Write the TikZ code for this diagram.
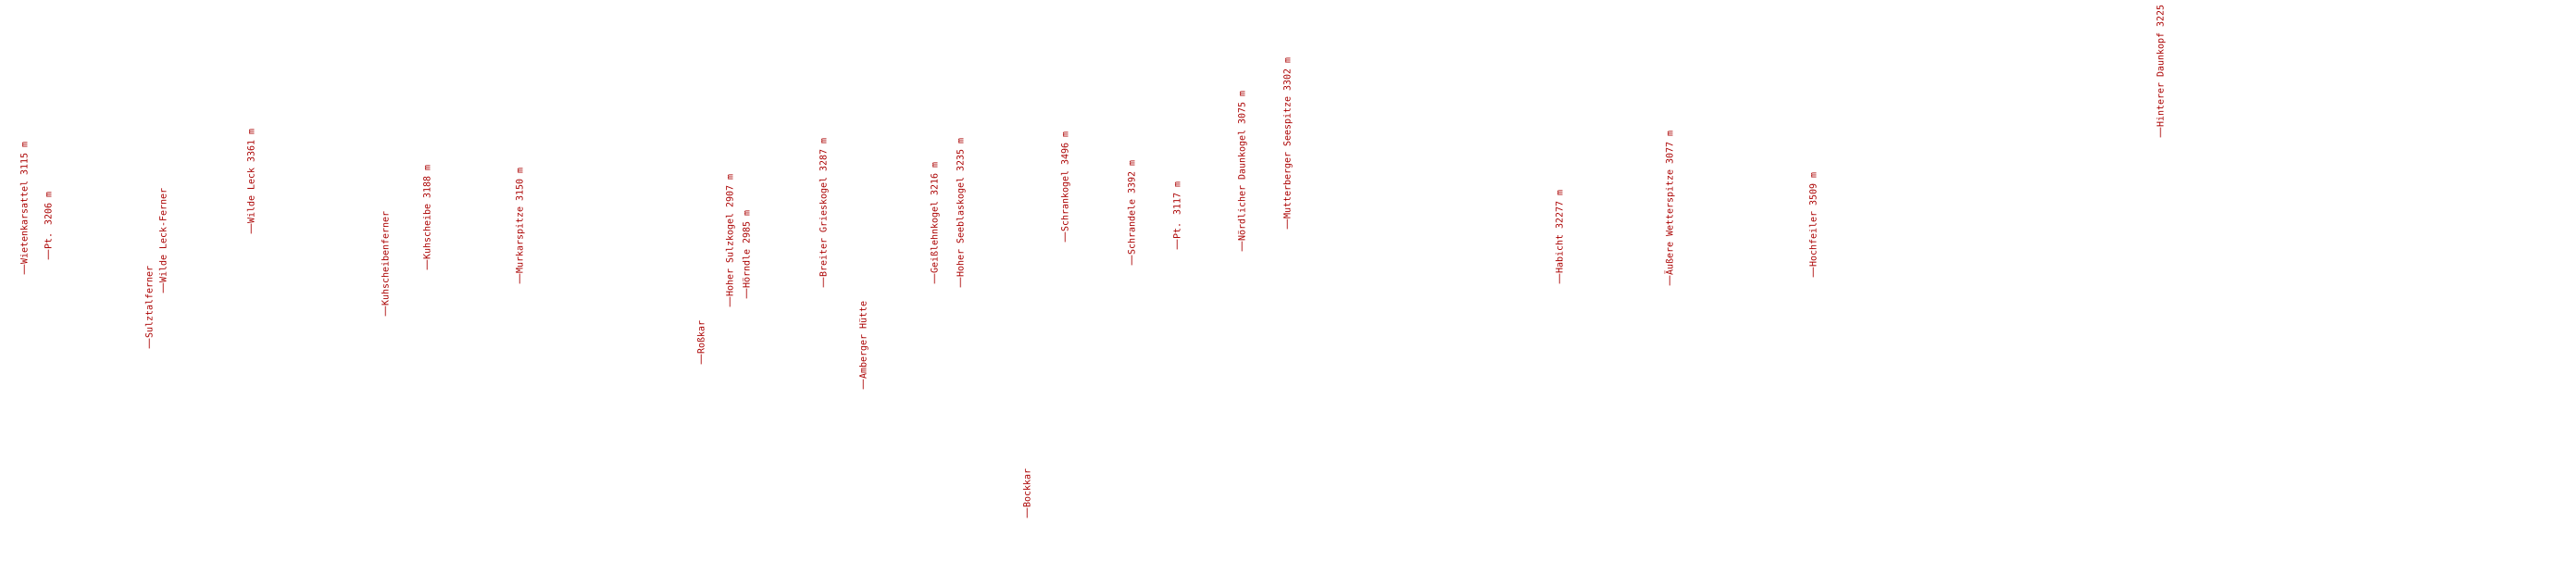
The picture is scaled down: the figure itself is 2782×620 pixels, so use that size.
\documentclass[tikz,border=0pt]{standalone}
\usepackage{fontspec}
\newfontfamily\lblmono{DejaVu Sans Mono}
\newfontfamily\lbldashfont{DejaVu Sans}
\newcommand\lbldash{{\lbldashfont\fontsize{12}{12}\selectfont —}}
\definecolor{lblred}{RGB}{170,0,0}
\tikzset{
  lbl/.style={rotate=90, anchor=west, inner sep=0pt, text=lblred,
    font=\lblmono\fontsize{10}{10}\selectfont, text height=7.5pt, text depth=2.5pt}
}
\begin{document}
\begin{tikzpicture}[x=1pt,y=-1pt]
\useasboundingbox (0,0) rectangle (2782,620);
\node[lbl] (n01) at (27,298)   {\lbldash Wietenkarsattel 3115 m};
\node[lbl] (n02) at (53,282)   {\lbldash Pt. 3206 m};
\node[lbl] (n03) at (162,378)  {\lbldash Sulztalferner};
\node[lbl] (n04) at (177,318)  {\lbldash Wilde Leck-Ferner};
\node[lbl] (n05) at (272,254)  {\lbldash Wilde Leck 3361 m};
\node[lbl] (n06) at (417,343)  {\lbldash Kuhscheibenferner};
\node[lbl] (n07) at (462,293)  {\lbldash Kuhscheibe 3188 m};
\node[lbl] (n08) at (562,308)  {\lbldash Murkarspitze 3150 m};
\node[lbl] (n09) at (758,395)  {\lbldash Roßkar};
\node[lbl] (n10) at (789,333)  {\lbldash Hoher Sulzkogel 2907 m};
\node[lbl] (n11) at (807,324)  {\lbldash Hörndle 2985 m};
\node[lbl] (n12) at (890,312)  {\lbldash Breiter Grieskogel 3287 m};
\node[lbl] (n13) at (933,422)  {\lbldash Amberger Hütte};
\node[lbl] (n14) at (1010,308) {\lbldash Geißlehnkogel 3216 m};
\node[lbl] (n15) at (1038,312) {\lbldash Hoher Seeblaskogel 3235 m};
\node[lbl] (n16) at (1110,561) {\lbldash Bockkar};
\node[lbl] (n17) at (1151,263) {\lbldash Schrankogel 3496 m};
\node[lbl] (n18) at (1223,288) {\lbldash Schrandele 3392 m};
\node[lbl] (n19) at (1272,271) {\lbldash Pt. 3117 m};
\node[lbl] (n20) at (1342,273) {\lbldash Nördlicher Daunkogel 3075 m};
\node[lbl] (n21) at (1391,249) {\lbldash Mutterberger Seespitze 3302 m};
\node[lbl] (n22) at (1685,308) {\lbldash Habicht 32277 m};
\node[lbl] (n23) at (1804,310) {\lbldash Äußere Wetterspitze 3077 m};
\node[lbl] (n24) at (1959,301) {\lbldash Hochfeiler 3509 m};
\node[lbl] (n25) at (2334,150) {\lbldash Hinterer Daunkopf 3225};
\end{tikzpicture}
\end{document}
